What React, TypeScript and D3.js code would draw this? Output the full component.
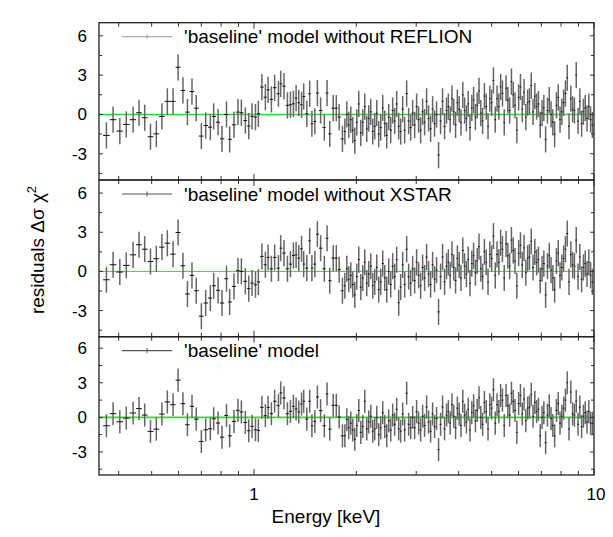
import React from "react";
import * as d3 from "d3";

// bin energies (keV), shared by the three panels
const energies = [
  0.368, 0.385, 0.403, 0.421, 0.441, 0.459, 0.477, 0.496, 0.516, 0.536,
  0.556, 0.578, 0.598, 0.618, 0.637, 0.657, 0.676, 0.700, 0.721, 0.744,
  0.761, 0.784, 0.805, 0.830, 0.848, 0.873, 0.897, 0.918, 0.943, 0.965,
  0.987, 1.01, 1.03, 1.055, 1.08, 1.10, 1.125, 1.15, 1.18, 1.198,
  1.225, 1.254, 1.28, 1.306, 1.33, 1.354, 1.38, 1.40, 1.43, 1.458,
  1.48, 1.51, 1.536, 1.57, 1.61, 1.64, 1.67, 1.71, 1.746, 1.78, 1.82,
  1.85, 1.875, 1.90, 1.926, 1.952, 1.979, 2.006, 2.033, 2.061, 2.089,
  2.117, 2.146, 2.175, 2.205, 2.235, 2.265, 2.296, 2.327, 2.359, 2.391,
  2.424, 2.457, 2.490, 2.524, 2.558, 2.593, 2.628, 2.664, 2.700, 2.737,
  2.774, 2.812, 2.850, 2.889, 2.928, 2.968, 3.008, 3.049, 3.091, 3.133,
  3.175, 3.218, 3.262, 3.307, 3.352, 3.397, 3.443, 3.490, 3.538, 3.586,
  3.635, 3.684,
  3.729, 3.775, 3.821, 3.868, 3.916, 3.964, 4.013, 4.062, 4.112, 4.163,
  4.214, 4.266, 4.318, 4.371, 4.425, 4.479, 4.534, 4.590, 4.646, 4.703,
  4.761, 4.820, 4.879, 4.939, 5.000, 5.061, 5.123, 5.186, 5.250, 5.314,
  5.379, 5.445, 5.512, 5.580, 5.648, 5.717, 5.787, 5.858, 5.930, 6.003,
  6.077, 6.151, 6.227, 6.303, 6.380, 6.459, 6.538, 6.618, 6.699, 6.781,
  6.864, 6.948, 7.034, 7.120, 7.207, 7.296, 7.385, 7.476, 7.567, 7.660,
  7.754, 7.849, 7.945, 8.043, 8.141, 8.241, 8.342, 8.444, 8.548, 8.653,
  8.759, 8.866, 8.975, 9.085, 9.196, 9.309, 9.423, 9.539, 9.656, 9.774,
  9.894,
];

// residuals, 'baseline' model without REFLION
const resNoReflion = [
  -1.6, -0.4, -1.27, -0.76, -0.4, 0.13, -0.25, -1.7, -1.48, -0.15,
  1.0, 1.0, 3.6, 1.83, 0.18, 1.75, 0.48, -1.65, -0.84, -0.97,
  -0.15, -0.59, -1.86, 0.0, -1.9, -0.79, 0.18, 0.13, -0.46, -0.89,
  -0.15, -0.2, 0.05, 2.09, 1.32, 1.88, 1.15, 2.04, 1.58, 2.34,
  2.16, 0.69, 0.74, 0.81, 1.25, 0.89, 0.74, 1.37, 0.05, 1.58,
  -0.71, -0.53, 1.63, 0.3, -1.0, 1.63, -1.48, 0.48, 0.48, -0.2, -1.86,
  -1.3, 0.0, -0.8, -0.4, -1.2, -2.0, -0.6, 0.8, -1.4, -0.6,
  0.6, -1.1, -0.3, 0.2, -1.3, -0.9, 0.1, -1.5, -1.0, 0.5,
  -0.7, -1.6, -0.2, -1.2, 0.3, -0.5, 0.8, -0.9, -1.3, 0.4,
  -1.2, 1.6, -0.5, -1.0, 0.1, -0.8, 0.6, -0.4, -1.2, 0.2,
  -0.6, 1.0, -0.3, -1.1, 0.4, -0.7, 0.0, -3.1, -0.5, 1.0,
  -0.9, 0.3,
  0.6, -0.4, 1.2, 0.2, -0.8, 0.9, 0.4, -0.6, 1.5, 0.3,
  -0.3, 0.8, -1.0, 0.5, 1.1, -0.2, 0.7, 1.8, 0.1, -0.5,
  1.4, 0.6, -0.9, 1.2, 0.9, 2.6, -0.4, 1.2, 0.6, 2.1,
  1.6, -0.6, 2.0, 1.1, 0.3, 2.5, 1.5, 0.7, -1.2, 1.3,
  2.1, 0.4, 1.7, -0.2, 0.9, 1.0, 2.2, 0.2, 1.4, 0.6,
  0.8, -0.8, 0.1, 0.5, -1.9, 0.3, 1.1, 0.0, -0.6, -1.5,
  0.7, 1.3, -0.4, 0.2, 0.9, 1.6, 2.8, -0.9, 1.2, 0.4,
  0.3, 3.0, -0.5, 1.0, -0.7, 0.2, 0.5, -0.3, 0.6, -0.4,
  -0.8,
];

// residuals, 'baseline' model without XSTAR
const resNoXstar = [
  -0.64, 0.51, -0.05, 0.46, 1.27, 2.04, 1.7, 0.76, 0.97, 1.86,
  2.16, 1.32, 2.98, 0.43, -1.73, -0.3, -1.48, -3.43, -2.42, -2.04,
  -1.1, -1.45, -2.42, -0.56, -2.34, -1.15, 0.05, 0.0, -0.76, -1.32,
  -0.89, -1.02, -0.81, 1.15, 0.51, 1.07, 0.2, 1.07, 0.25, 1.78,
  1.4, 0.2, 0.56, 1.22, 1.27, 1.02, 1.73, 0.56, 0.25, 2.34,
  0.25, 0.56, 2.85, 1.78, 0.2, 2.54, -0.71, 1.02, 1.02, 0.13, -1.48,
  -1.1, 0.2, -0.6, -0.3, -1.0, -1.8, -0.4, 0.9, -1.2, -0.5,
  0.7, -0.9, -0.2, 0.4, -1.1, -0.8, 0.3, -1.4, -0.8, 0.6,
  -0.5, -1.4, 0.0, -1.0, 0.4, -0.4, 0.9, -2.4, -1.2, 0.5,
  -1.0, 1.7, -0.4, -0.9, 0.2, -0.7, 0.7, -0.3, -1.1, 0.3,
  -0.5, 1.1, -0.2, -1.0, 0.5, -0.6, 0.1, -3.1, -0.4, 1.1,
  -0.8, 0.4,
  0.7, -0.3, 1.3, 0.3, -0.7, 1.0, 0.5, -0.5, 1.6, 0.4,
  -0.2, 0.9, -0.9, 0.6, 1.2, -0.1, 0.8, 1.9, 0.2, -0.4,
  1.5, 0.7, -0.8, 1.3, 1.0, 2.7, -0.3, 1.3, 0.7, 2.2,
  1.7, -0.5, 2.1, 1.2, 0.4, 2.4, 1.6, 0.8, -1.1, 1.4,
  2.0, 0.5, 1.8, -0.1, 1.0, 1.1, 2.3, 0.3, 1.5, 0.7,
  0.9, -0.7, 0.2, 0.6, -1.8, 0.4, 1.2, 0.1, -0.5, -1.4,
  0.8, 1.4, -0.3, 0.3, 1.0, 1.7, 2.9, -0.8, 1.3, 0.5,
  0.4, 2.4, -0.4, 1.1, -0.6, 0.3, 0.6, -0.2, 0.7, -0.3,
  -0.8,
];

// residuals, 'baseline' model
const resBaseline = [
  -0.73, 0.32, -0.38, -0.06, 0.38, 0.76, 0.2, -1.22, -1.02, 0.29,
  1.34, 1.1, 3.23, 1.19, -0.64, 0.96, -0.15, -2.09, -1.08, -0.99,
  -0.12, -0.49, -1.72, 0.17, -1.6, -0.35, 0.61, 0.47, -0.44, -1.16,
  -0.78, -1.08, -1.13, 0.87, 0.15, 0.87, 0.32, 1.4, 1.02, 2.12,
  1.69, 0.32, 0.52, 0.96, 0.73, 0.47, 1.16, 1.4, -0.15, 1.4,
  -0.73, -0.35, 1.77, 0.58, -0.73, 2.03, -1.02, 1.05, 1.05, 0.03, -1.6,
  -1.6, -0.2, -0.9, -0.5, -1.1, -1.9, -0.7, 0.6, -1.3, -0.8,
  1.4, -1.0, -0.4, 0.1, -1.2, -1.0, 0.0, -1.5, -0.9, 0.4,
  -0.8, -1.6, -0.3, -1.1, 0.2, -0.6, 0.7, -1.0, -1.2, 0.3,
  -1.1, 2.1, -0.6, -0.9, 0.0, -0.9, 0.5, -0.5, -1.1, 0.1,
  -0.7, 0.9, -0.4, -1.2, 0.3, -0.8, -0.1, -2.8, -0.6, 0.9,
  -1.0, 0.2,
  0.5, -0.5, 1.1, 0.1, -0.9, 0.8, 0.3, -0.7, 1.4, 0.2,
  -0.4, 0.7, -1.1, 0.4, 1.0, -0.3, 0.6, 1.7, 0.0, -0.6,
  1.3, 0.5, -1.0, 1.1, 0.8, 2.4, -0.5, 1.1, 0.5, 1.9,
  1.5, -0.7, 1.9, 1.0, 0.2, 2.1, 1.4, 0.6, -1.3, 1.2,
  1.9, 0.3, 1.6, -0.3, 0.8, 0.9, 2.0, 0.1, 1.3, 0.5,
  0.7, -1.6, 0.0, 0.4, -2.2, 0.2, 1.0, -0.1, -0.7, -1.6,
  0.6, 1.2, -0.5, 0.1, 0.8, 1.5, 3.0, -1.0, 2.2, 0.3,
  0.2, 1.4, -0.6, 0.9, -0.8, 0.1, 0.4, -0.4, 0.5, -0.5,
  -0.5,
];

const legendLabels = [
  "'baseline' model without REFLION",
  "'baseline' model without XSTAR",
  "'baseline' model",
];
const yTickLabels = [6, 3, 0, -3];
const yMinorTicks = [-4.5, -1.5, 1.5, 4.5];
const xMinorTicks = [0.4, 0.5, 0.6, 0.7, 0.8, 0.9, 2, 3, 4, 5, 6, 7, 8, 9];
const xMajorTicks = [1, 10];

const W = 613;
const H = 537;
const left = 99;
const right = 594;
const font = "'Liberation Sans', Arial, Helvetica, sans-serif";

const panels = [
  {top: 22.7, bottom: 180, values: resNoReflion, label: legendLabels[0], green: 1.6, legendColor: "#aaa"},
  {top: 180, bottom: 336.7, values: resNoXstar, label: legendLabels[1], green: 1, legendColor: "#555"},
  {top: 336.7, bottom: 475, values: resBaseline, label: legendLabels[2], green: 1.6, legendColor: "#555"},
];

const x = d3.scaleLog().domain([0.35, 10]).range([left, right]);

function Panel({p}: {p: any}) {
  const y = d3.scaleLinear().domain([-5, 7]).range([p.bottom, p.top]);
  const px = energies.map((e) => x(e));
  return (
    <g>
      {/* zero line */}
      <line x1={left} x2={right} y1={y(0)} y2={y(0)} stroke="#22e622" strokeWidth={p.green} />

      {/* data with error bars */}
      {p.values.map((v: number, i: number) => {
        const cx = px[i];
        const lw = i > 0 ? (cx - px[i - 1]) / 2 : (px[1] - px[0]) / 2;
        const rw = i < px.length - 1 ? (px[i + 1] - cx) / 2 : (cx - px[i - 1]) / 2;
        const cy = y(v);
        return (
          <g key={i}>
            <line x1={cx} x2={cx} y1={y(v + 1)} y2={y(v - 1)} stroke="#666" strokeWidth={1.5} />
            <line x1={cx - lw} x2={Math.min(cx + rw, right)} y1={cy} y2={cy} stroke="#111" strokeWidth={1} />
          </g>
        );
      })}

      {/* legend */}
      <line x1={122} x2={172} y1={p.top + 14} y2={p.top + 14} stroke={p.legendColor} strokeWidth={1.2} />
      <line x1={147} x2={147} y1={p.top + 11.5} y2={p.top + 16.5} stroke={p.legendColor} strokeWidth={1} />
      <text x={184} y={p.top + 20.5} fontSize={19} fontFamily={font} fill="#000">{p.label}</text>

      {/* y ticks */}
      {yTickLabels.map((t) => (
        <g key={"yt" + t}>
          <line x1={left} x2={left + 4} y1={y(t)} y2={y(t)} stroke="#333" />
          <line x1={right - 4} x2={right} y1={y(t)} y2={y(t)} stroke="#333" />
          <text x={87} y={y(t) + 6} textAnchor="end" fontSize={17} fontFamily={font}>{t}</text>
        </g>
      ))}
      {yMinorTicks.map((t) => (
        <g key={"ym" + t}>
          <line x1={left} x2={left + 3} y1={y(t)} y2={y(t)} stroke="#333" />
          <line x1={right - 3} x2={right} y1={y(t)} y2={y(t)} stroke="#333" />
        </g>
      ))}

      {/* x ticks top and bottom */}
      {xMinorTicks.map((t) => (
        <g key={"xm" + t}>
          <line x1={x(t)} x2={x(t)} y1={p.bottom} y2={p.bottom - 4} stroke="#333" />
          <line x1={x(t)} x2={x(t)} y1={p.top} y2={p.top + 4} stroke="#333" />
        </g>
      ))}
      {xMajorTicks.map((t) => (
        <g key={"xM" + t}>
          <line x1={x(t)} x2={x(t)} y1={p.bottom} y2={p.bottom - 6} stroke="#333" />
          <line x1={x(t)} x2={x(t)} y1={p.top} y2={p.top + 6} stroke="#333" />
        </g>
      ))}

      {/* frame */}
      <rect x={left} y={p.top} width={right - left} height={p.bottom - p.top} fill="none" stroke="#222" strokeWidth={1.3} />
    </g>
  );
}

export default function App() {
  const bottom = panels[2].bottom;
  return (
    <svg width={W} height={H} style={{position: "absolute", left: 0, top: 0, background: "#fff"}}>
      <rect x={0} y={0} width={W} height={H} fill="#fff" />
      {panels.map((p, i) => (
        <Panel key={i} p={p} />
      ))}
      {/* x tick labels */}
      {xMajorTicks.map((t) => (
        <text key={"xl" + t} x={x(t) + (t === 10 ? 2 : 0)} y={bottom + 25} textAnchor="middle" fontSize={17} fontFamily={font}>{t}</text>
      ))}
      <text x={326} y={523} textAnchor="middle" fontSize={19} fontFamily={font}>Energy [keV]</text>
      <text transform="translate(44,250) rotate(-90)" textAnchor="middle" fontSize={19} fontFamily={font}>
        residuals Δσ χ<tspan fontSize={13} dy={-8}>2</tspan>
      </text>
    </svg>
  );
}
